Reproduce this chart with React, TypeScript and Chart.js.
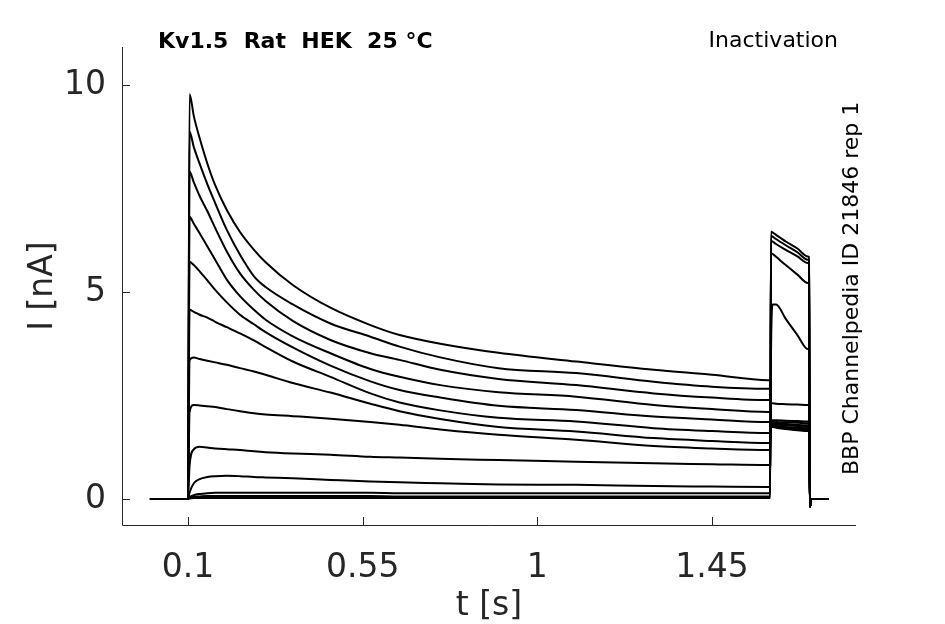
import { useEffect, useRef } from "react"
import { Chart, registerables, type Plugin } from "chart.js"

Chart.register(...registerables)

// time points (s) of the test pulse, first value is the step onset
const pulseTimes = [0.1, 0.104, 0.115, 0.13, 0.15, 0.17, 0.2, 0.234, 0.27, 0.3, 0.37, 0.467, 0.57, 0.645, 0.75, 0.9, 1.1, 1.3, 1.45, 1.595, 1.6]
// time points of the second (inactivation test) step
const testTimes = [1.602, 1.606, 1.615, 1.64, 1.67, 1.697, 1.7]
// holding before the pulse and tail after it
const holdTimes = [0.002, 0.1]
const holdValues = [0, 0]
const tailTimes = [1.7025, 1.706, 1.75]
const tailValues = [-0.19, 0, 0]

// current (nA) per sweep during the test pulse
const pulseValues = [
  [0, 9.78, 9.25, 8.72, 8.1, 7.58, 6.98, 6.45, 6.02, 5.72, 5.17, 4.62, 4.2, 3.96, 3.75, 3.53, 3.32, 3.12, 3.0, 2.87, 2.87],
  [0, 8.87, 8.5, 8.1, 7.6, 7.15, 6.5, 5.9, 5.38, 5.12, 4.7, 4.24, 3.92, 3.68, 3.42, 3.16, 3.04, 2.83, 2.71, 2.66, 2.66],
  [0, 7.91, 7.65, 7.32, 6.95, 6.55, 5.98, 5.45, 5.05, 4.78, 4.3, 3.84, 3.52, 3.36, 3.12, 2.9, 2.75, 2.55, 2.45, 2.39, 2.39],
  [0, 6.82, 6.65, 6.42, 6.1, 5.78, 5.3, 4.9, 4.57, 4.33, 3.93, 3.52, 3.14, 2.95, 2.75, 2.58, 2.47, 2.27, 2.17, 2.1, 2.1],
  [0, 5.73, 5.65, 5.5, 5.28, 5.05, 4.75, 4.45, 4.22, 4.03, 3.66, 3.22, 2.84, 2.63, 2.45, 2.25, 2.15, 1.99, 1.92, 1.86, 1.86],
  [0, 4.57, 4.52, 4.45, 4.38, 4.28, 4.15, 4.0, 3.83, 3.67, 3.32, 2.95, 2.55, 2.33, 2.14, 1.96, 1.87, 1.71, 1.64, 1.59, 1.59],
  [0, 3.35, 3.42, 3.38, 3.34, 3.3, 3.24, 3.16, 3.08, 3.0, 2.8, 2.57, 2.3, 2.12, 1.93, 1.74, 1.63, 1.47, 1.4, 1.35, 1.35],
  [0, 2.1, 2.27, 2.26, 2.24, 2.22, 2.17, 2.12, 2.07, 2.04, 2.0, 1.94, 1.86, 1.79, 1.68, 1.55, 1.43, 1.28, 1.22, 1.18, 1.18],
  [0, 0.8, 1.2, 1.26, 1.24, 1.22, 1.2, 1.18, 1.15, 1.13, 1.1, 1.07, 1.02, 1.0, 0.97, 0.94, 0.9, 0.86, 0.84, 0.82, 0.82],
  [0, 0.15, 0.38, 0.48, 0.53, 0.55, 0.56, 0.55, 0.53, 0.52, 0.5, 0.46, 0.42, 0.4, 0.38, 0.35, 0.34, 0.31, 0.3, 0.29, 0.29],
  [0, 0.04, 0.09, 0.12, 0.14, 0.15, 0.15, 0.15, 0.15, 0.15, 0.15, 0.15, 0.15, 0.14, 0.14, 0.14, 0.14, 0.14, 0.14, 0.14, 0.14],
  [0, 0.02, 0.05, 0.06, 0.07, 0.07, 0.07, 0.07, 0.07, 0.07, 0.07, 0.07, 0.07, 0.06, 0.06, 0.06, 0.06, 0.06, 0.06, 0.06, 0.06],
  [0, 0.01, 0.02, 0.02, 0.02, 0.02, 0.02, 0.02, 0.02, 0.02, 0.02, 0.02, 0.02, 0.02, 0.02, 0.02, 0.02, 0.02, 0.02, 0.02, 0.02],
]

// current (nA) per sweep during the second step
const testValues = [
  [1.74, 1.74, 1.72, 1.69, 1.66, 1.64, 1.64],
  [1.76, 1.76, 1.74, 1.71, 1.69, 1.67, 1.67],
  [1.78, 1.78, 1.77, 1.74, 1.72, 1.7, 1.7],
  [1.81, 1.81, 1.8, 1.78, 1.76, 1.74, 1.74],
  [1.84, 1.84, 1.83, 1.81, 1.79, 1.78, 1.78],
  [1.87, 1.87, 1.86, 1.85, 1.84, 1.83, 1.83],
  [1.9, 1.9, 1.9, 1.89, 1.88, 1.87, 1.87],
  [2.31, 2.31, 2.3, 2.29, 2.28, 2.27, 2.27],
  [3.5, 4.7, 4.7, 4.35, 3.96, 3.62, 3.6],
  [5.93, 5.92, 5.85, 5.65, 5.42, 5.22, 5.21],
  [6.24, 6.22, 6.16, 6.02, 5.86, 5.7, 5.69],
  [6.36, 6.34, 6.28, 6.13, 5.96, 5.78, 5.77],
  [6.46, 6.44, 6.38, 6.22, 6.05, 5.86, 5.85],
]

const xTicks = [0.1, 0.55, 1, 1.45]
const xTickLabels = ["0.1", "0.55", "1", "1.45"]
const yTicks = [0, 5, 10]

const axisColor = "#262626"
const tickFont = { family: "DejaVu Sans", size: 33 }

const decorPlugin: Plugin<"line"> = {
  id: "decor",
  afterDraw(chart) {
    const { ctx, chartArea: a } = chart
    const x = chart.scales.x
    const y = chart.scales.y
    ctx.save()
    ctx.strokeStyle = axisColor
    ctx.lineWidth = 1
    ctx.beginPath()
    ctx.moveTo(a.left + 0.5, a.top)
    ctx.lineTo(a.left + 0.5, a.bottom + 0.5)
    ctx.lineTo(a.right, a.bottom + 0.5)
    // inward tick marks
    yTicks.forEach((v) => {
      const py = Math.round(y.getPixelForValue(v)) + 0.5
      ctx.moveTo(a.left, py)
      ctx.lineTo(a.left + 8, py)
    })
    xTicks.forEach((v) => {
      const px = Math.round(x.getPixelForValue(v)) + 0.5
      ctx.moveTo(px, a.bottom)
      ctx.lineTo(px, a.bottom - 8)
    })
    ctx.stroke()

    // axis titles
    ctx.fillStyle = axisColor
    ctx.font = "33px 'DejaVu Sans'"
    ctx.textAlign = "center"
    ctx.textBaseline = "alphabetic"
    ctx.fillText("t [s]", (a.left + a.right) / 2, 615)
    ctx.save()
    ctx.translate(52, (a.top + a.bottom) / 2)
    ctx.rotate(-Math.PI / 2)
    ctx.fillText("I [nA]", 0, 0)
    ctx.restore()

    // header texts
    ctx.fillStyle = "#000"
    ctx.textAlign = "left"
    ctx.font = "bold 22px 'DejaVu Sans'"
    ctx.fillText("Kv1.5  Rat  HEK  25 °C", 158, 48)
    ctx.textAlign = "right"
    ctx.font = "22px 'DejaVu Sans'"
    ctx.fillText("Inactivation", 838, 47)
    ctx.save()
    ctx.translate(858, 475)
    ctx.rotate(-Math.PI / 2)
    ctx.textAlign = "left"
    ctx.fillText("BBP Channelpedia ID 21846 rep 1", 0, 0)
    ctx.restore()
    ctx.restore()
  },
}

export default function App() {
  const chartRef = useRef<HTMLCanvasElement>(null)
  const chartInstance = useRef<Chart | null>(null)

  useEffect(() => {
    if (!chartRef.current) return
    const ctx = chartRef.current.getContext("2d")
    if (!ctx) return

    if (chartInstance.current) {
      chartInstance.current.destroy()
    }

    const datasets = pulseValues.map((vals, i) => ({
      data: [
        ...holdTimes.map((t, j) => ({ x: t, y: holdValues[j] })),
        ...pulseTimes.map((t, j) => ({ x: t, y: vals[j] })),
        ...testTimes.map((t, j) => ({ x: t, y: testValues[i][j] })),
        ...tailTimes.map((t, j) => ({ x: t, y: tailValues[j] })),
      ],
      borderColor: "#000",
      borderWidth: 2,
      pointRadius: 0,
      fill: false,
      cubicInterpolationMode: "monotone" as const,
    }))

    chartInstance.current = new Chart(ctx, {
      type: "line",
      data: { datasets },
      plugins: [decorPlugin],
      options: {
        responsive: false,
        animation: false,
        layout: { padding: { top: 47, right: 89, left: 0, bottom: 0 } },
        plugins: { legend: { display: false }, tooltip: { enabled: false } },
        scales: {
          x: {
            type: "linear",
            min: -0.07,
            max: 1.821,
            afterBuildTicks: (s) => {
              s.ticks = xTicks.map((v) => ({ value: v }))
            },
            afterFit: (s) => {
              s.height = 99
            },
            grid: { display: false },
            border: { display: false },
            ticks: {
              font: tickFont,
              color: axisColor,
              padding: 16,
              maxRotation: 0,
              autoSkip: false,
              callback: (v) => xTickLabels[xTicks.indexOf(Number(v))] ?? "",
            },
          },
          y: {
            type: "linear",
            min: -0.63,
            max: 10.92,
            afterBuildTicks: (s) => {
              s.ticks = yTicks.map((v) => ({ value: v }))
            },
            afterFit: (s) => {
              s.width = 122
            },
            grid: { display: false },
            border: { display: false },
            ticks: {
              font: tickFont,
              color: axisColor,
              padding: 8,
              callback: (v) => String(v),
            },
          },
        },
      },
    })

    return () => {
      if (chartInstance.current) {
        chartInstance.current.destroy()
        chartInstance.current = null
      }
    }
  }, [])

  return (
    <div style={{ position: "fixed", left: 0, top: 0, width: 945, height: 624, background: "#fff" }}>
      <canvas ref={chartRef} width={945} height={624} />
    </div>
  )
}
